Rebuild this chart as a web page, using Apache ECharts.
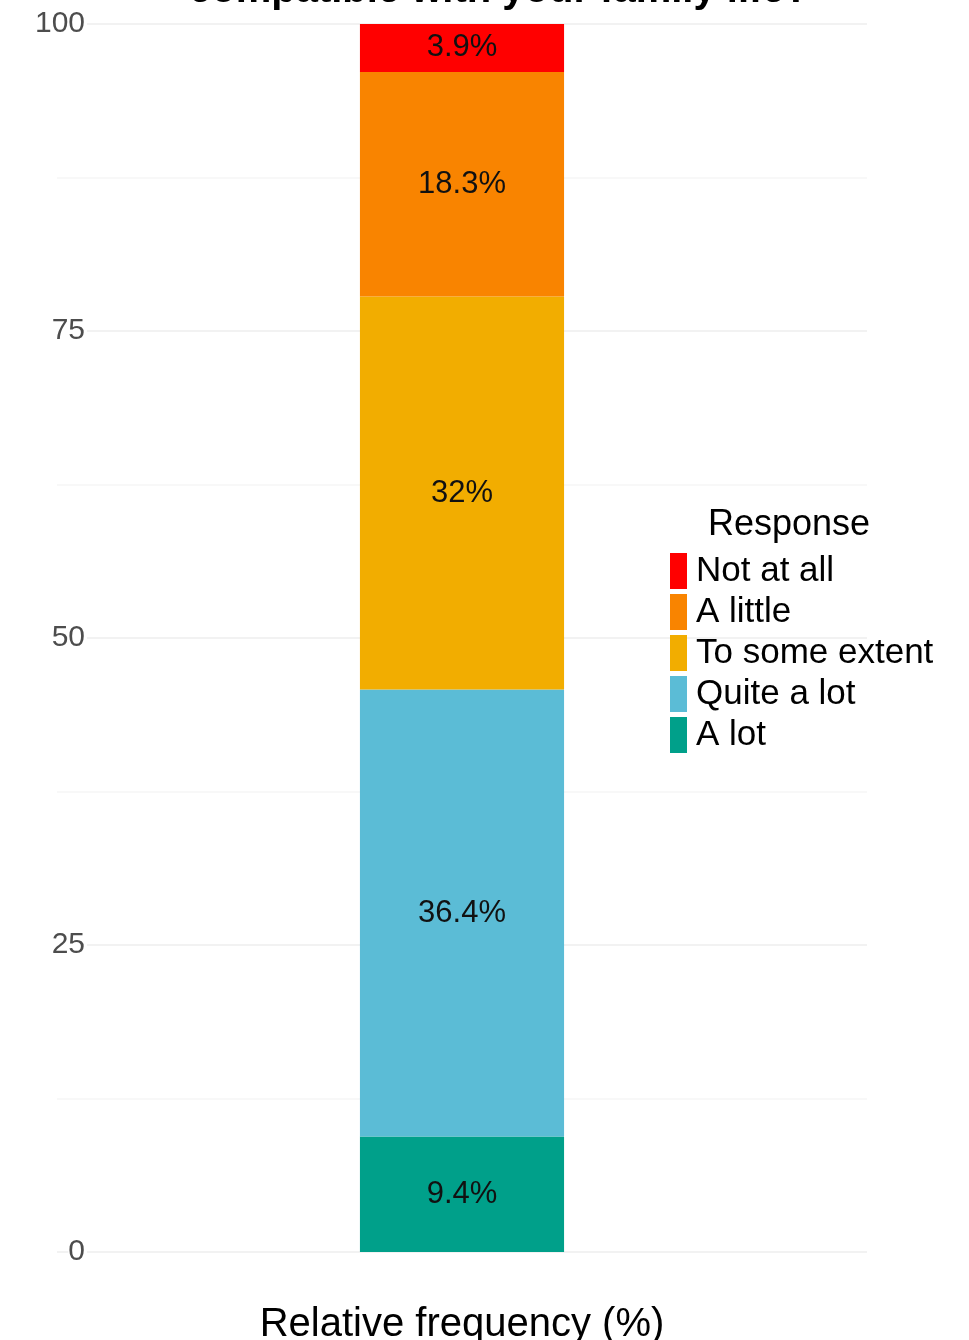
<!DOCTYPE html>
<html>
<head>
<meta charset="utf-8">
<script src="https://cdn.jsdelivr.net/npm/echarts@6/dist/echarts.min.js"></script>
<style>
html,body{margin:0;padding:0;background:#fff;}
#chart{width:969px;height:1340px;}
</style>
</head>
<body>
<div id="chart"></div>
<script>
const categories = [''];
const responses = ['A lot', 'Quite a lot', 'To some extent', 'A little', 'Not at all'];
const values = [9.4, 36.4, 32, 18.3, 3.9];
const labels = ['9.4%', '36.4%', '32%', '18.3%', '3.9%'];
const legendOrder = ['Not at all', 'A little', 'To some extent', 'Quite a lot', 'A lot'];
const colors = {
  'Not at all': '#FF0000',
  'A little': '#F98400',
  'To some extent': '#F2AD00',
  'Quite a lot': '#5BBCD6',
  'A lot': '#00A08A'
};
const yTicks = [0, 25, 50, 75, 100];

const FONT = '"Liberation Sans", Arial, sans-serif';
const chart = echarts.init(document.getElementById('chart'));

const series = responses.map((r, i) => ({
  name: r,
  type: 'bar',
  stack: 'total',
  data: [values[i]],
  barWidth: '25.2%',
  barGap: 0,
  itemStyle: { color: colors[r] },
  label: {
    show: true,
    position: 'inside',
    formatter: () => labels[i],
    color: '#111',
    fontSize: 31,
    fontFamily: FONT
  },
  emphasis: { disabled: true }
}));

chart.setOption({
  animation: false,
  backgroundColor: '#fff',
  title: {
    text: 'compatible with your family life?',
    left: 494,
    textAlign: 'center',
    top: -34,
    textStyle: { fontSize: 40, fontWeight: 'bold', color: '#000', fontFamily: FONT }
  },
  grid: { left: 57, right: 102, top: 24, bottom: 88, outerBoundsMode: 'none', containLabel: false },
  legend: {
    data: legendOrder,
    orient: 'vertical',
    left: 670,
    top: 553,
    padding: 0,
    itemWidth: 17,
    itemHeight: 36,
    itemGap: 5,
    icon: 'rect',
    textStyle: { fontSize: 35, lineHeight: 36, color: '#000', fontFamily: FONT, padding: [0, 0, 0, 4] }
  },
  graphic: [{
    type: 'text',
    left: 708,
    top: 507,
    style: { text: 'Response', fill: '#000', font: '36px ' + FONT }
  }],
  xAxis: {
    type: 'category',
    data: categories,
    name: 'Relative frequency (%)',
    nameLocation: 'middle',
    nameGap: 53,
    nameTextStyle: { fontSize: 40, color: '#000', fontFamily: FONT },
    axisLine: { show: false },
    axisTick: { show: false },
    axisLabel: { show: false },
    splitLine: { show: false }
  },
  yAxis: {
    type: 'value',
    min: 0,
    max: 100,
    interval: 25,
    axisLine: { show: false },
    axisTick: { show: false },
    axisLabel: {
      margin: -30,
      fontSize: 30,
      color: '#4d4d4d',
      fontFamily: FONT,
      backgroundColor: '#fff',
      padding: [0, 2, 0, 0],
      formatter: v => yTicks.includes(v) ? String(v) : ''
    },
    splitLine: { show: true, lineStyle: { color: '#f2f2f2', width: 2 } },
    minorTick: { show: false, splitNumber: 2 },
    minorSplitLine: { show: true, lineStyle: { color: '#f8f8f8', width: 2 } }
  },
  series: series
});
</script>
</body>
</html>
